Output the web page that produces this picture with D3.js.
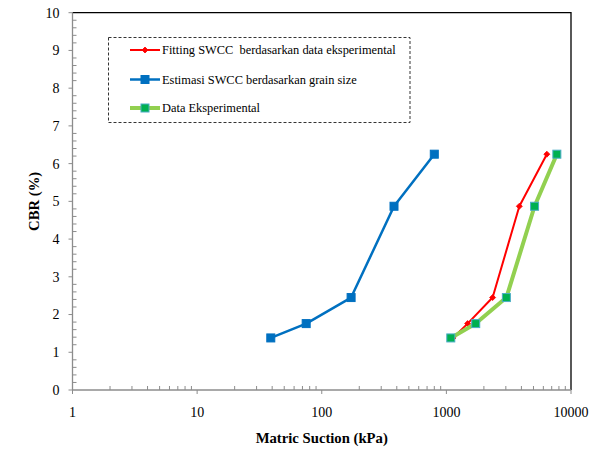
<!DOCTYPE html>
<html>
<head>
<meta charset="utf-8">
<script src="https://cdn.jsdelivr.net/npm/d3@7"></script>
<style>
  html, body { margin: 0; padding: 0; background: #fff; }
  svg { display: block; }
</style>
</head>
<body>
<script>
// CBR values shared by all three curves
const cbrValues = [1.38, 1.76, 2.45, 4.87, 6.25];
// Matric suction (kPa) for each curve
const suctionFitting = [1130, 1480, 2350, 3850, 6400];
const suctionGrain = [39, 75, 172, 380, 800];
const suctionExperimental = [1085, 1720, 3030, 5100, 7700];

const seriesNames = [
  "Fitting SWCC  berdasarkan data eksperimental",
  "Estimasi SWCC berdasarkan grain size",
  "Data Eksperimental"
];
const xTickValues = [1, 10, 100, 1000, 10000];
const yTickValues = [0, 1, 2, 3, 4, 5, 6, 7, 8, 9, 10];

const W = 600, H = 450;
const plot = { left: 72.5, right: 571, top: 12.7, bottom: 390 };
const serif = "Liberation Serif, Times New Roman, serif";

const svg = d3.select("body").append("svg")
  .attr("width", W).attr("height", H)
  .attr("font-family", serif);

const x = d3.scaleLog().domain([1, 10000]).range([plot.left, plot.right]);
const y = d3.scaleLinear().domain([0, 10]).range([plot.bottom, plot.top]);

const axisGrey = "#8c8c8c";

// Frame: top and right edges
svg.append("path")
  .attr("d", `M${plot.left},${plot.top}H${plot.right}V${plot.bottom}`)
  .attr("fill", "none").attr("stroke", "#000").attr("stroke-width", 1.3);

// Y axis: major ticks outside, minor ticks inside
const yAxis = svg.append("g").attr("transform", `translate(${plot.left},0)`);
yAxis.append("line").attr("x1", 0).attr("x2", 0)
  .attr("y1", plot.top).attr("y2", plot.bottom)
  .attr("stroke", axisGrey).attr("stroke-width", 1.3);
yAxis.selectAll(".major").data(yTickValues).join("line")
  .attr("x1", -4).attr("x2", 0)
  .attr("y1", d => y(d)).attr("y2", d => y(d))
  .attr("stroke", axisGrey);
const yMinor = d3.range(0, 50).map(i => i * 0.2).filter(v => Math.abs(v - Math.round(v)) > 1e-6);
yAxis.selectAll(".minor").data(yMinor).join("line")
  .attr("x1", 0).attr("x2", 4)
  .attr("y1", d => y(d)).attr("y2", d => y(d))
  .attr("stroke", axisGrey);
yAxis.selectAll("text").data(yTickValues).join("text")
  .attr("x", -13).attr("y", d => y(d)).attr("dy", "0.35em")
  .attr("text-anchor", "end").attr("font-size", 14)
  .text(d => d);

// X axis: major ticks outside, minor ticks inside
const xAxis = svg.append("g").attr("transform", `translate(0,${plot.bottom})`);
xAxis.append("line").attr("x1", plot.left).attr("x2", plot.right)
  .attr("y1", 0).attr("y2", 0)
  .attr("stroke", axisGrey).attr("stroke-width", 1.3);
xAxis.selectAll(".major").data(xTickValues).join("line")
  .attr("x1", d => x(d)).attr("x2", d => x(d))
  .attr("y1", 0).attr("y2", 4)
  .attr("stroke", axisGrey);
const xMinor = [];
[1, 10, 100, 1000].forEach(dec => { for (let k = 2; k <= 9; k++) xMinor.push(dec * k); });
xAxis.selectAll(".minor").data(xMinor).join("line")
  .attr("x1", d => x(d)).attr("x2", d => x(d))
  .attr("y1", -4).attr("y2", 0)
  .attr("stroke", axisGrey);
xAxis.selectAll("text").data(xTickValues).join("text")
  .attr("x", d => x(d)).attr("y", 22).attr("dy", "0.35em")
  .attr("text-anchor", "middle").attr("font-size", 14)
  .text(d => d);

// Axis titles
svg.append("text")
  .attr("x", (plot.left + plot.right) / 2).attr("y", 443)
  .attr("text-anchor", "middle").attr("font-size", 14.7).attr("font-weight", "bold")
  .text("Matric Suction (kPa)");
svg.append("text")
  .attr("transform", `translate(39,${(plot.top + plot.bottom) / 2}) rotate(-90)`)
  .attr("text-anchor", "middle").attr("font-size", 14.7).attr("font-weight", "bold")
  .text("CBR (%)");

const line = d3.line().x(d => x(d[0])).y(d => y(d[1]));
const zip = xs => xs.map((v, i) => [v, cbrValues[i]]);

const series = [
  { name: seriesNames[0], data: zip(suctionFitting), stroke: "#ff0000", width: 2,
    marker: "diamond", fill: "#ff0000", mstroke: "#ff0000", size: 5 },
  { name: seriesNames[1], data: zip(suctionGrain), stroke: "#0070c0", width: 2.5,
    marker: "square", fill: "#0070c0", mstroke: "#0070c0", size: 8 },
  { name: seriesNames[2], data: zip(suctionExperimental), stroke: "#92d050", width: 4,
    marker: "square", fill: "#00b050", mstroke: "#4bacc6", size: 8 }
];

function drawMarker(g, s, cx, cy) {
  if (s.marker === "square") {
    g.append("rect")
      .attr("x", cx - s.size / 2).attr("y", cy - s.size / 2)
      .attr("width", s.size).attr("height", s.size)
      .attr("fill", s.fill).attr("stroke", s.mstroke).attr("stroke-width", 1);
  } else {
    const r = s.size / 2 + 0.5;
    g.append("path")
      .attr("d", `M${cx},${cy - r}L${cx + r},${cy}L${cx},${cy + r}L${cx - r},${cy}Z`)
      .attr("fill", s.fill).attr("stroke", s.mstroke).attr("stroke-width", 0.8);
  }
}

series.forEach(s => {
  const g = svg.append("g");
  g.append("path").datum(s.data).attr("d", line)
    .attr("fill", "none").attr("stroke", s.stroke)
    .attr("stroke-width", s.width).attr("stroke-linejoin", "round");
  s.data.forEach(d => drawMarker(g, s, x(d[0]), y(d[1])));
});

// Legend
const legend = svg.append("g");
legend.append("rect")
  .attr("x", 108.5).attr("y", 37.5).attr("width", 301.5).attr("height", 85)
  .attr("fill", "#fff").attr("stroke", "#333").attr("stroke-width", 1)
  .attr("stroke-dasharray", "3,2");
const rowY = [50, 79.5, 108];
series.forEach((s, i) => {
  const g = legend.append("g");
  g.append("line").attr("x1", 130).attr("x2", 160)
    .attr("y1", rowY[i]).attr("y2", rowY[i])
    .attr("stroke", s.stroke).attr("stroke-width", s.width);
  drawMarker(g, s, 145, rowY[i]);
  g.append("text").attr("x", 162).attr("y", rowY[i]).attr("dy", "0.35em")
    .attr("font-size", 12.4).attr("xml:space", "preserve").style("white-space", "pre")
    .text(s.name);
});
</script>
</body>
</html>
